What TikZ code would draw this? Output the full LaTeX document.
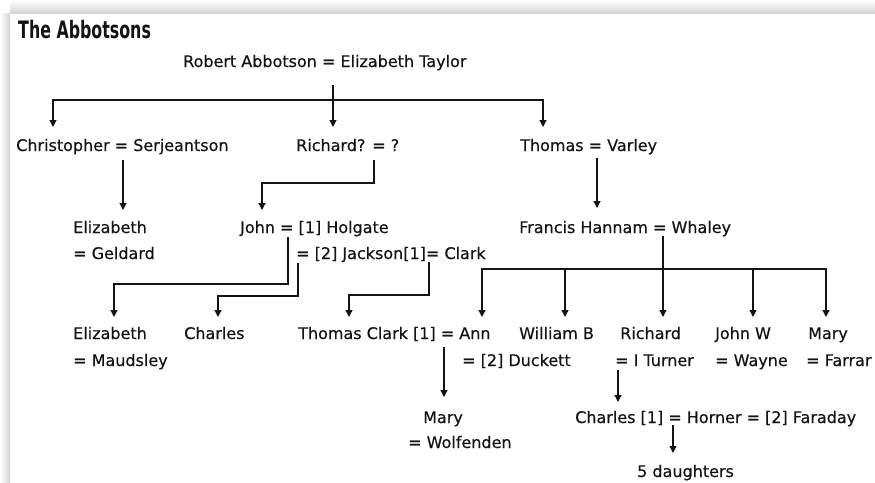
\documentclass[tikz,border=0pt]{standalone}
\usepackage{fontspec}
\setmainfont[FakeBold=0.4]{DejaVu Sans}
\newfontfamily\titlefont[FakeStretch=0.66]{DejaVu Sans}
\usetikzlibrary{arrows.meta}
\definecolor{inkline}{HTML}{141414}
\definecolor{shadowgrey}{HTML}{D6D6D6}

\begin{document}
\begin{tikzpicture}[
        x=1pt, y=-1pt,
        person/.style={anchor=base west, inner sep=0pt, text=inkline, font=\fontsize{16}{19}\selectfont},
        link/.style={draw=inkline, line width=1.2pt},
        >={Triangle[length=7pt, width=7pt]}
    ]
        \useasboundingbox (0,0) rectangle (875,482);
        % frame shadow
        \fill[left color=white, right color=shadowgrey] (0,13) rectangle (10,482);
        \fill[top color=white, bottom color=shadowgrey] (10,0) rectangle (875,13);

        \node[person, font=\titlefont\bfseries\fontsize{24}{28}\selectfont] (title) at (18,38) {The Abbotsons};

        \node[person] (robert) at (183,67) {Robert Abbotson = Elizabeth Taylor};
        \node[person] (chris) at (16,151) {Christopher = Serjeantson};
        \node[person] (richard) at (296,151) {Richard? = ?};
        \node[person] (thomas) at (520,151) {Thomas = Varley};

        \node[person] (elizg) at (73,233) {Elizabeth};
        \node[person] (geldard) at (73,259) {= Geldard};
        \node[person] (john) at (240,233) {John = [1] Holgate};
        \node[person] (jackson) at (296,259) {= [2] Jackson[1]= Clark};
        \node[person] (francis) at (519,233) {Francis Hannam = Whaley};

        \node[person] (elizm) at (73,339) {Elizabeth};
        \node[person] (maudsley) at (73,366) {= Maudsley};
        \node[person] (charles) at (184,339) {Charles};
        \node[person] (tclark) at (298,339) {Thomas Clark [1] = Ann};
        \node[person] (duckett) at (462,366) {= [2] Duckett};
        \node[person] (williamb) at (519,339) {William B};
        \node[person] (richardb) at (620,339) {Richard};
        \node[person] (turner) at (615,366) {= I Turner};
        \node[person] (johnw) at (715,339) {John W};
        \node[person] (wayne) at (715,366) {= Wayne};
        \node[person] (mary) at (808,339) {Mary};
        \node[person] (farrar) at (806,366) {= Farrar};

        \node[person] (marywolf) at (423,423) {Mary};
        \node[person] (wolfenden) at (408,448) {= Wolfenden};
        \node[person] (horner) at (575,423) {Charles [1] = Horner = [2] Faraday};
        \node[person] (daughters) at (637,477) {5 daughters};

        % first generation
        \draw[link, ->] ([xshift=150pt, yshift=-18pt]robert.base west) -- ([xshift=37pt, yshift=24pt]richard.base west);
        \draw[link, ->] ([xshift=150pt, yshift=-33pt]robert.base west) -| ([xshift=37pt, yshift=24pt]chris.base west);
        \draw[link, ->] ([xshift=150pt, yshift=-33pt]robert.base west) -| ([xshift=23pt, yshift=24pt]thomas.base west);

        % second generation
        \draw[link, ->] ([xshift=107pt, yshift=-9pt]chris.base west) -- ([xshift=50pt, yshift=23pt]elizg.base west);
        \draw[link, ->] ([xshift=78pt, yshift=-9pt]richard.base west) -- ++(0,23) -| ([xshift=22pt, yshift=23pt]john.base west);
        \draw[link, ->] ([xshift=77pt, yshift=-7pt]thomas.base west) -- ([xshift=78pt, yshift=25pt]francis.base west);

        % third generation
        \draw[link, ->] ([xshift=48pt, yshift=-4pt]john.base west) -- ++(0,47) -| ([xshift=41pt, yshift=22pt]elizm.base west);
        \draw[link, ->] ([xshift=2pt, yshift=-4pt]jackson.base west) -- ++(0,33) -| ([xshift=34pt, yshift=22pt]charles.base west);
        \draw[link, ->] ([xshift=133pt, yshift=-3pt]jackson.base west) -- ++(0,33) -| ([xshift=51pt, yshift=22pt]tclark.base west);
        \draw[link, ->] ([xshift=144pt, yshift=-3pt]francis.base west) -- ([xshift=43pt, yshift=22pt]richardb.base west);
        \draw[link, ->] ([xshift=144pt, yshift=-36pt]francis.base west) -| ([xshift=184pt, yshift=22pt]tclark.base west);
        \draw[link, ->] ([xshift=144pt, yshift=-36pt]francis.base west) -| ([xshift=18pt, yshift=22pt]mary.base west);
        \draw[link, ->] ([xshift=46pt, yshift=-36pt]francis.base west) -- ([xshift=46pt, yshift=22pt]williamb.base west);
        \draw[link, ->] ([xshift=234pt, yshift=-36pt]francis.base west) -- ([xshift=38pt, yshift=22pt]johnw.base west);

        % fourth generation
        \draw[link, ->] ([xshift=146pt, yshift=-8pt]tclark.base west) -- ([xshift=21pt, yshift=26pt]marywolf.base west);
        \draw[link, ->] ([xshift=3pt, yshift=-4pt]turner.base west) -- ([xshift=43pt, yshift=21pt]horner.base west);
        \draw[link, ->] ([xshift=98pt, yshift=-2pt]horner.base west) -- ([xshift=36pt, yshift=24pt]daughters.base west);
    \end{tikzpicture}
\end{document}
